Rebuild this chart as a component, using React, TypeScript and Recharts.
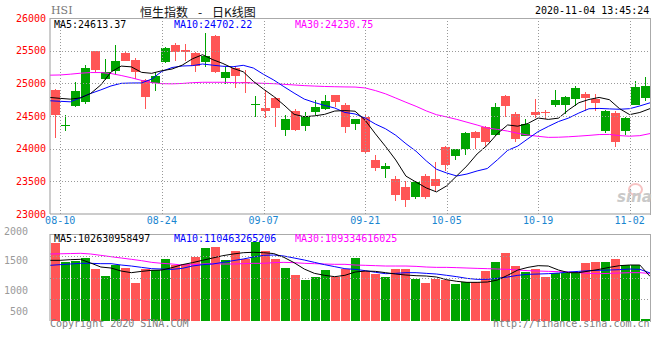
import { ComposedChart, Bar, Line, XAxis, YAxis, Cell } from 'recharts'

// 恒生指数 日K线 2020-08-07 ~ 2020-11-04
const dates = [
  '08-07', '08-10', '08-11', '08-12', '08-13', '08-14', '08-17', '08-18', '08-19', '08-20',
  '08-21', '08-24', '08-25', '08-26', '08-27', '08-28', '08-31', '09-01', '09-02', '09-03',
  '09-04', '09-07', '09-08', '09-09', '09-10', '09-11', '09-14', '09-15', '09-16', '09-17',
  '09-18', '09-21', '09-22', '09-23', '09-24', '09-25', '09-28', '09-29', '09-30', '10-05',
  '10-06', '10-07', '10-08', '10-09', '10-12', '10-14', '10-15', '10-16', '10-19', '10-20',
  '10-21', '10-22', '10-23', '10-27', '10-28', '10-29', '10-30', '11-02', '11-03', '11-04',
]
const dateTicks = ['08-10', '08-24', '09-07', '09-21', '10-05', '10-19', '11-02']

const open = [
  24903, 24360, 24648, 24720, 25490, 25067, 25194, 25470, 25362, 25056,
  25005, 25332, 25592, 25516, 25470, 25322, 25730, 25077, 25235, 25026,
  24679, 24618, 24781, 24286, 24572, 24342, 24556, 24607, 24822, 24674,
  24378, 24490, 23832, 23684, 23536, 23419, 23255, 23587, 23536, 24031,
  23888, 23995, 24260, 24337, 24209, 24812, 24531, 24199, 24567, 24556,
  24674, 24674, 24760, 24837, 24760, 24276, 24541, 24276, 24674, 24771,
]
const high = [
  24910, 24516, 25026, 25286, 25495, 25373, 25587, 25475, 25383, 25060,
  25179, 25550, 25623, 25602, 25475, 25770, 25745, 25245, 25260, 25209,
  24811, 24888, 24785, 24521, 24607, 24567, 24745, 24822, 24825, 24699,
  24460, 24531, 23908, 23786, 23587, 23500, 23500, 23612, 23791, 24035,
  24000, 24250, 24265, 24340, 24699, 24815, 24567, 24454, 24761, 24592,
  24903, 24812, 24965, 24873, 24837, 24597, 24582, 24480, 25041, 25092,
]
const low = [
  24158, 24265, 24640, 24679, 25169, 25056, 25128, 25340, 25067, 24602,
  24878, 25306, 25337, 25347, 25169, 25245, 25160, 24990, 24924, 24847,
  24480, 24465, 24327, 24199, 24276, 24276, 24521, 24592, 24633, 24240,
  24286, 23919, 23663, 23546, 23204, 23113, 23230, 23230, 23357, 23663,
  23832, 23903, 23995, 24046, 24199, 24490, 24097, 24190, 24470, 24454,
  24633, 24531, 24658, 24582, 24582, 24240, 24021, 24215, 24669, 24735,
]
const close = [
  24521, 24365, 24888, 25240, 25209, 25179, 25347, 25347, 25179, 24786,
  25107, 25546, 25475, 25475, 25271, 25424, 25169, 25179, 25107, 25005,
  24689, 24577, 24618, 24454, 24291, 24505, 24643, 24730, 24709, 24327,
  24454, 23944, 23699, 23740, 23296, 23220, 23485, 23255, 23434, 23755,
  23990, 24245, 24169, 24107, 24643, 24653, 24148, 24378, 24521, 24541,
  24745, 24786, 24924, 24771, 24694, 24577, 24097, 24465, 24939, 24965,
]
const ma5 = [
  24784, 24770, 24758, 24778, 24845, 24976, 25173, 25264, 25252, 25168,
  25153, 25193, 25219, 25278, 25375, 25438, 25363, 25304, 25230, 25177,
  25030, 24911, 24799, 24669, 24526, 24489, 24502, 24525, 24576, 24583,
  24573, 24433, 24227, 24033, 23827, 23580, 23488, 23399, 23338, 23430,
  23584, 23736, 23919, 24053, 24231, 24363, 24344, 24386, 24469, 24448,
  24467, 24594, 24703, 24753, 24784, 24750, 24613, 24521, 24554, 24613,
]
const ma10 = [
  24733, 24725, 24717, 24780, 24845, 24900, 24960, 25000, 25005, 25006,
  25065, 25183, 25242, 25265, 25271, 25296, 25278, 25261, 25254, 25276,
  25234, 25137, 25051, 24949, 24851, 24759, 24707, 24662, 24622, 24554,
  24531, 24468, 24376, 24304, 24205, 24076, 23960, 23813, 23685, 23628,
  23582, 23612, 23659, 23696, 23830, 23974, 24040, 24152, 24261, 24340,
  24415, 24469, 24545, 24611, 24616, 24609, 24603, 24612, 24654, 24702,
]
const ma30 = [
  25125, 25128, 25140, 25155, 25165, 25165, 25150, 25120, 25085, 25045,
  25010, 24995, 24992, 24998, 25010, 25016, 25016, 25016, 25012, 25008,
  25005, 25000, 24995, 24985, 24975, 24965, 24958, 24952, 24948, 24945,
  24943, 24929, 24889, 24839, 24775, 24710, 24648, 24578, 24520, 24486,
  24448, 24405, 24362, 24316, 24295, 24269, 24235, 24208, 24189, 24173,
  24175, 24182, 24192, 24203, 24216, 24218, 24200, 24191, 24199, 24231,
]

// 成交额（亿）
const volume = [
  1793, 1356, 1379, 1448, 1195, 1041, 1287, 1211, 880, 1195,
  1180, 1425, 1287, 1303, 1478, 1686, 1701, 1402, 1609, 1418,
  1823, 1609, 1425, 1218, 1057, 942, 1011, 1172, 1019, 1195,
  1448, 1149, 1080, 1011, 1195, 1195, 965, 873, 965, 942,
  850, 896, 896, 1149, 1356, 1563, 1264, 1126, 1195, 1011,
  1103, 1103, 1126, 1333, 1356, 1356, 1425, 1287, 1287, 40,
]
const volMa5 = [
  1395, 1395, 1410, 1418, 1333, 1241, 1218, 1149, 1111, 1141,
  1165, 1172, 1226, 1295, 1341, 1395, 1448, 1502, 1540, 1570,
  1580, 1570, 1550, 1463, 1341, 1195, 1095, 1050, 1019, 1050,
  1126, 1149, 1141, 1111, 1080, 1057, 1042, 1034, 1011, 950,
  912, 889, 889, 896, 942, 1050, 1172, 1233, 1272, 1264,
  1172, 1111, 1111, 1149, 1187, 1233, 1272, 1287, 1287, 1026,
]
const volMa10 = [
  1280, 1295, 1310, 1326, 1326, 1318, 1318, 1287, 1264, 1233,
  1203, 1195, 1187, 1210, 1264, 1295, 1310, 1348, 1387, 1425,
  1471, 1509, 1517, 1494, 1448, 1402, 1348, 1295, 1249, 1203,
  1187, 1157, 1119, 1088, 1095, 1111, 1111, 1095, 1080, 1050,
  1019, 980, 957, 957, 980, 1011, 1050, 1073, 1080, 1088,
  1103, 1126, 1141, 1157, 1165, 1172, 1180, 1195, 1187, 1105,
]
const volMa30 = [
  1540, 1545, 1550, 1556, 1540, 1509, 1478, 1448, 1418, 1387,
  1348, 1326, 1310, 1287, 1295, 1310, 1318, 1310, 1310, 1318,
  1326, 1326, 1341, 1348, 1341, 1326, 1318, 1310, 1303, 1303,
  1287, 1280, 1272, 1264, 1264, 1264, 1256, 1241, 1233, 1233,
  1226, 1218, 1210, 1203, 1195, 1187, 1172, 1157, 1149, 1141,
  1134, 1126, 1111, 1095, 1088, 1095, 1103, 1111, 1111, 1093,
]

const priceTicks = [23000, 23500, 24000, 24500, 25000, 25500, 26000]
const volTicks = [500, 1000, 1500, 2000]

const RED = '#ff5555'
const GREEN = '#00a400'
const GRID = '#999'
const MONO = '"DejaVu Sans Mono", monospace'

// chart geometry
const W = 660
const Y_AXIS_W = 50
const PLOT_W = 600
const K_H = 236
const K_MARGIN = { top: 18, right: W - Y_AXIS_W - PLOT_W, bottom: 2, left: 0 }
const X_AXIS_H = 20
const K_PLOT_H = K_H - K_MARGIN.top - K_MARGIN.bottom - X_AXIS_H
const V_TOP = 226
const V_H = 100
const V_MARGIN = { top: 8, right: W - Y_AXIS_W - PLOT_W, bottom: 5, left: 0 }
const V_PLOT_H = V_H - V_MARGIN.top - V_MARGIN.bottom

const rows = dates.map((date, i) => ({
  date,
  idx: i,
  range: [low[i], high[i]],
  open: open[i],
  close: close[i],
  ma5: ma5[i],
  ma10: ma10[i],
  ma30: ma30[i],
  vol: volume[i],
  vma5: volMa5[i],
  vma10: volMa10[i],
  vma30: volMa30[i],
}))
const tickIdx = dateTicks.map(d => dates.indexOf(d))

function Candle(props: any) {
  const { x, y, width, height, payload } = props
  if (!payload) return null
  const [lo, hi] = payload.range
  const top = Math.min(y, y + height)
  const h = Math.abs(height)
  const at = (v: number) => top + ((hi - v) / (hi - lo)) * h
  const color = payload.close >= payload.open ? GREEN : RED
  const left = Math.floor(x)
  const w = Math.round(width)
  const mid = left + Math.floor(w / 2) + 0.5
  const bTop = at(Math.max(payload.open, payload.close))
  const bBot = at(Math.min(payload.open, payload.close))
  return (
    <g shapeRendering="crispEdges">
      <line x1={mid} x2={mid} y1={top} y2={top + h} stroke={color} />
      <rect x={left} y={bTop} width={w} height={Math.max(1, bBot - bTop)} fill={color} />
    </g>
  )
}

// dotted grid line built from short solid dashes
function dotted(len: number, step: (t: number) => string) {
  let d = ''
  for (let t = 0; t < len; t += 3) d += step(t)
  return d
}

// y tick: label plus its horizontal grid line
function YTick(props: any) {
  const { x, y, payload, gap, skip, color, shift } = props
  const v = payload.value
  const yy = Math.round(y) + 0.5
  const x0 = Math.round(x + gap)
  return (
    <g>
      {!skip?.includes(v) && <path d={dotted(PLOT_W, t => `M${x0 + t},${yy}h1`)} stroke={GRID} strokeWidth={1} fill="none" />}
      <text x={x} y={y + (shift?.[v] ?? 0)} dy="0.355em" textAnchor="end" fill={color} fontSize={10} fontFamily={MONO}>{v}</text>
    </g>
  )
}

// x tick: date label plus its vertical grid line
function XTick(props: any) {
  const { x, y, payload, gap, plotH, showText } = props
  const xx = Math.round(x) + 0.5
  const y0 = Math.round(y - gap)
  return (
    <g>
      <path d={dotted(plotH, t => `M${xx},${y0 - t}v-1`)} stroke={GRID} strokeWidth={1} fill="none" />
      {showText && (
        <text x={x} y={y} dy="0.71em" textAnchor="middle" fill="#1a86d0" fontSize={10} fontFamily={MONO}>{dates[payload.value]}</text>
      )}
    </g>
  )
}

// 量能刻度文字位置与网格线略有错位（照原图）
const volLabelShift: Record<number, number> = { 2000: -3, 1500: 5, 1000: 13, 500: 12 }

const label = (left: number, top: number, color: string, text: string) => (
  <div style={{ position: 'absolute', left, top, color, fontFamily: MONO, fontSize: 10, lineHeight: '12px', whiteSpace: 'nowrap' }}>
    {text}
  </div>
)

const cjk = { position: 'absolute' as const, top: 5, color: '#111', fontFamily: '"Noto Sans CJK SC", sans-serif', fontSize: 12, lineHeight: '13px' }
const layer = (top: number) => ({ position: 'absolute' as const, left: 0, top })

export default function App() {
  return (
    <div style={{ position: 'absolute', left: 0, top: 0, width: W, height: 360, background: '#fff', overflow: 'hidden' }}>
      {/* header */}
      <div style={{ position: 'absolute', left: 51, top: 5, color: '#777', fontFamily: '"DejaVu Serif", serif', fontSize: 11, lineHeight: '12px' }}>HSI</div>
      <div style={{ ...cjk, left: 140 }}>恒生指数</div>
      <div style={{ ...cjk, left: 198 }}>-</div>
      <div style={{ ...cjk, left: 212 }}>日K线图</div>
      {label(535, 5, '#000', '2020-11-04 13:45:24')}

      {/* K线 */}
      <div style={layer(0)}>
        <ComposedChart width={W} height={K_H} data={rows} margin={K_MARGIN}>
          <XAxis xAxisId="c" dataKey="date" type="category" orientation="top" hide />
          <XAxis xAxisId="ln" dataKey="idx" type="number" domain={[0, 59]} ticks={tickIdx} interval={0}
            height={X_AXIS_H} tickLine={false} tickSize={0} tickMargin={3} axisLine={{ stroke: '#999' }}
            tick={<XTick gap={3} plotH={K_PLOT_H} showText />} />
          <YAxis domain={[23000, 26000]} ticks={priceTicks} interval={0} width={Y_AXIS_W} tickLine={false} tickSize={0} tickMargin={4}
            axisLine={{ stroke: '#999' }} tick={<YTick gap={4} skip={[23000, 26000]} color="#f00" />} />
          <Bar xAxisId="c" dataKey="range" barSize={9} shape={Candle} isAnimationActive={false} />
          <Line xAxisId="ln" dataKey="ma30" stroke="#ff00ff" strokeWidth={1} dot={false} isAnimationActive={false} />
          <Line xAxisId="ln" dataKey="ma10" stroke="#0000ff" strokeWidth={1} dot={false} isAnimationActive={false} />
          <Line xAxisId="ln" dataKey="ma5" stroke="#000" strokeWidth={1} dot={false} isAnimationActive={false} />
        </ComposedChart>
      </div>
      <div style={{ position: 'absolute', left: Y_AXIS_W, top: K_MARGIN.top, width: PLOT_W, height: K_PLOT_H, borderTop: '1px solid #aaa', borderRight: '1px solid #aaa', pointerEvents: 'none' }} />
      {label(54, 19, '#000', 'MA5:24613.37')}
      {label(174, 19, '#0000ff', 'MA10:24702.22')}
      {label(295, 19, '#ff00ff', 'MA30:24230.75')}
      <div style={{ position: 'absolute', left: 628, top: 183, width: 11, height: 9, borderRadius: '50%', border: '2px solid #f4b4b4', opacity: 0.8 }} />
      <div style={{ position: 'absolute', left: 617, top: 188, color: '#c9c9c9', fontFamily: '"DejaVu Sans", sans-serif', fontStyle: 'italic', fontWeight: 700, fontSize: 15, lineHeight: '18px' }}>sina</div>

      {/* 成交量 */}
      <div style={layer(V_TOP)}>
        <ComposedChart width={W} height={V_H} data={rows} margin={V_MARGIN}>
          <XAxis xAxisId="c" dataKey="date" type="category" orientation="top" hide />
          <XAxis xAxisId="ln" dataKey="idx" type="number" domain={[0, 59]} ticks={tickIdx} interval={0}
            height={0} tickLine={false} tickSize={0} tickMargin={0} axisLine={false}
            tick={<XTick gap={0} plotH={V_PLOT_H} />} />
          <YAxis domain={[0, 2000]} ticks={volTicks} interval={0} width={Y_AXIS_W} tickLine={false} tickSize={0} tickMargin={22}
            axisLine={{ stroke: '#999' }} tick={<YTick gap={22} skip={[2000]} color="#9a9a9a" shift={volLabelShift} />} />
          <Bar xAxisId="c" dataKey="vol" barSize={9} isAnimationActive={false} style={{ shapeRendering: 'crispEdges' }}>
            {rows.map((r, i) => <Cell key={i} fill={r.close >= r.open ? GREEN : RED} />)}
          </Bar>
          <Line xAxisId="ln" dataKey="vma30" stroke="#ff00ff" strokeWidth={1} dot={false} isAnimationActive={false} />
          <Line xAxisId="ln" dataKey="vma10" stroke="#0000ff" strokeWidth={1} dot={false} isAnimationActive={false} />
          <Line xAxisId="ln" dataKey="vma5" stroke="#000" strokeWidth={1} dot={false} isAnimationActive={false} />
        </ComposedChart>
      </div>
      <div style={{ position: 'absolute', left: Y_AXIS_W, top: V_TOP + V_MARGIN.top, width: PLOT_W, height: V_PLOT_H, borderTop: '1px solid #aaa', borderRight: '1px solid #aaa', pointerEvents: 'none' }} />
      {label(54, 233, '#000', 'MA5:102630958497')}
      {label(174, 233, '#0000ff', 'MA10:110463265206')}
      {label(295, 233, '#ff00ff', 'MA30:109334616025')}

      {label(50, 318, '#808080', 'Copyright 2020 SINA.COM')}
      {label(493, 318, '#808080', 'http://finance.sina.com.cn')}
    </div>
  )
}
